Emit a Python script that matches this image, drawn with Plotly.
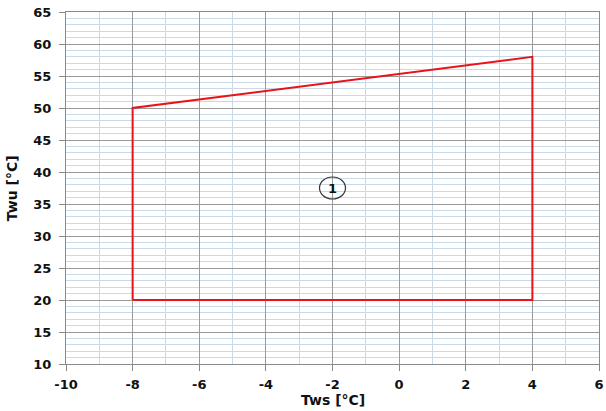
import plotly.graph_objects as go

# Data: operating envelope polygon
tws = [-8, -8, 4, 4, -8]
twu = [20, 50, 58, 20, 20]
label_x = [-2]
label_y = [37.5]
label_text = ["1"]
x_ticks = [-10, -8, -6, -4, -2, 0, 2, 4, 6]
y_ticks = [10, 15, 20, 25, 30, 35, 40, 45, 50, 55, 60, 65]

fig = go.Figure()
fig.add_trace(go.Scatter(x=tws, y=twu, mode="lines",
                         line=dict(color="#e8131b", width=2), showlegend=False,
                         hoverinfo="skip"))

fig.add_shape(type="circle", xref="x", yref="y", xsizemode="pixel", ysizemode="pixel",
              xanchor=label_x[0], yanchor=label_y[0], x0=-13, x1=13, y0=-11, y1=11,
              line=dict(color="#333333", width=1.2), fillcolor="rgba(0,0,0,0)")
fig.add_annotation(x=label_x[0], y=label_y[0], text="<b>" + label_text[0] + "</b>",
                   showarrow=False, font=dict(family="DejaVu Sans", size=13, color="#111"))

tickfont = dict(family="DejaVu Sans", size=13, color="#111")
fig.update_xaxes(range=[-10, 6], tickvals=x_ticks,
                 ticktext=["<b>%d</b>" % v for v in x_ticks],
                 showgrid=True, gridcolor="#9a9a9a", gridwidth=1,
                 minor=dict(dtick=1, showgrid=True, gridcolor="#c9d9e6", gridwidth=1),
                 ticks="outside", ticklen=6, tickcolor="#888",
                 showline=True, linecolor="#8a8a8a", mirror=True, zeroline=False,
                 tickfont=tickfont, automargin=False, ticklabelstandoff=2,
                 ticklabeloverflow="allow")
fig.update_yaxes(range=[10, 65], tickvals=y_ticks,
                 ticktext=["<b>%d</b>" % v for v in y_ticks],
                 showgrid=True, gridcolor="#9a9a9a", gridwidth=1,
                 minor=dict(dtick=1, showgrid=True, gridcolor="#c9d9e6", gridwidth=1),
                 ticks="outside", ticklen=6, tickcolor="#888",
                 showline=True, linecolor="#8a8a8a", mirror=True, zeroline=False,
                 tickfont=tickfont, automargin=False, ticklabelstandoff=5,
                 ticklabeloverflow="allow")

fig.add_annotation(text="<b>Tws [°C]</b>", xref="paper", yref="paper", x=0.5, y=-0.102,
                   yanchor="middle", showarrow=False,
                   font=dict(family="DejaVu Sans", size=14, color="#111"))
fig.add_annotation(text="<b>Twu [°C]</b>", xref="paper", yref="paper", x=-0.101, y=0.5,
                   xanchor="center", textangle=-90, showarrow=False,
                   font=dict(family="DejaVu Sans", size=14, color="#111"))

fig.update_layout(width=606, height=411, margin=dict(l=66, r=7, t=12, b=47, autoexpand=False),
                  plot_bgcolor="white", paper_bgcolor="white")
fig.write_html("out.html", config={"displayModeBar": False},
               post_script="document.body.style.margin='0';document.body.style.overflow='hidden';")
